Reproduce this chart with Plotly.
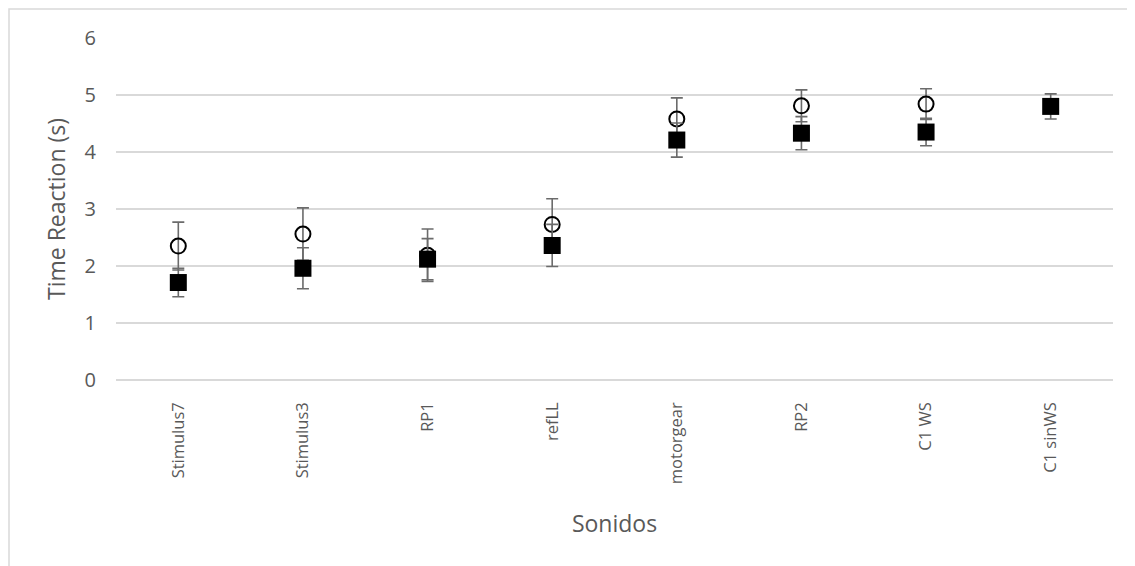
import plotly.graph_objects as go

categories = ["Stimulus7", "Stimulus3", "RP1", "refLL", "motorgear", "RP2", "C1 WS", "C1 sinWS"]

# open-circle series
circle_values = [2.35, 2.56, 2.19, 2.73, 4.58, 4.81, 4.84, None]
circle_errors = [0.42, 0.46, 0.46, 0.45, 0.37, 0.28, 0.27, None]

# filled-square series
square_values = [1.71, 1.96, 2.12, 2.36, 4.21, 4.33, 4.35, 4.80]
square_errors = [0.25, 0.36, 0.36, 0.37, 0.30, 0.29, 0.24, 0.22]

y_ticks = [0, 1, 2, 3, 4, 5, 6]

err_style = dict(type="data", visible=True, color="#6b6b6b", thickness=1.6, width=6)

fig = go.Figure()
fig.add_trace(go.Scatter(
    x=categories, y=circle_values, mode="markers",
    marker=dict(symbol="circle-open", size=15, color="black", line=dict(width=2, color="black")),
    error_y=dict(array=circle_errors, **err_style),
    showlegend=False,
))
fig.add_trace(go.Scatter(
    x=categories, y=square_values, mode="markers",
    marker=dict(symbol="square", size=17, color="black", line=dict(width=0)),
    error_y=dict(array=square_errors, **err_style),
    showlegend=False,
))

font_family = "Open Sans, Noto Sans, sans-serif"

# page body adds an 8px offset, so the figure is 8px smaller than the window
W, H = 1127, 558
L, R, T, B = 108, 22, 30, 186
plot_w = W - L - R
plot_h = H - T - B

fig.update_layout(
    width=W, height=H,
    margin=dict(l=L, r=R, t=T, b=B),
    paper_bgcolor="white", plot_bgcolor="white",
    font=dict(family=font_family, color="#595959"),
    xaxis=dict(
        type="category", categoryorder="array", categoryarray=categories,
        tickangle=-90, tickfont=dict(size=16.5, color="#595959"),
        showgrid=False, showline=False, zeroline=False, ticks="",
        ticklabelstandoff=18,
        title=dict(text="Sonidos", font=dict(size=23, color="#595959"), standoff=32),
        range=[-0.5, len(categories) - 0.5],
    ),
    yaxis=dict(
        range=[0, 6], tickvals=y_ticks,
        tickfont=dict(size=20, color="#595959"),
        showgrid=True, gridcolor="#d9d9d9", gridwidth=1.5,
        zeroline=True, zerolinecolor="#d9d9d9", zerolinewidth=1.5,
        showline=False, ticks="", ticklabelstandoff=19,
        title=dict(text="Time Reaction (s)", font=dict(size=23, color="#595959"), standoff=12),
    ),
    shapes=[dict(
        type="rect", xref="paper", yref="paper",
        x0=(1 - L) / plot_w, x1=1.05, y0=-0.7, y1=1 + (T - 1) / plot_h,
        line=dict(color="#d9d9d9", width=1.5), fillcolor="rgba(0,0,0,0)", layer="below",
    )],
)

fig.write_html("out.html")
